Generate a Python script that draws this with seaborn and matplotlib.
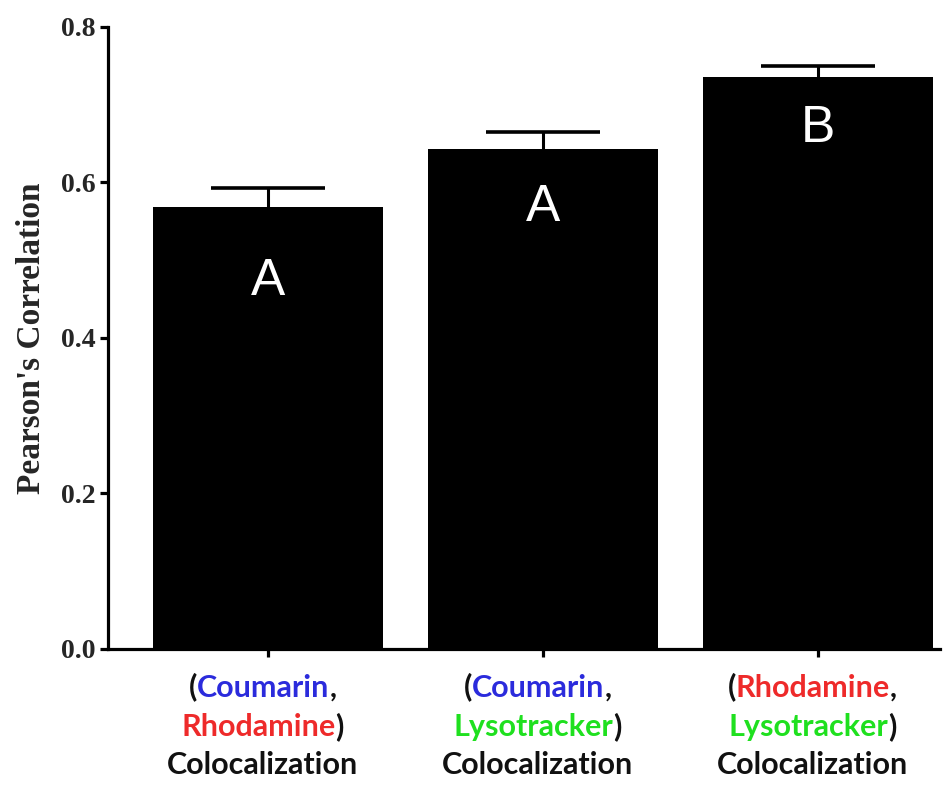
import matplotlib
matplotlib.use('Agg')
import matplotlib.pyplot as plt
import seaborn as sns
import pandas as pd
from matplotlib.offsetbox import TextArea, HPacker, VPacker, AnnotationBbox

# data
pairs = ['Coumarin-Rhodamine', 'Coumarin-Lysotracker', 'Rhodamine-Lysotracker']
pearson = [0.569, 0.643, 0.736]
sem = [0.024, 0.022, 0.014]
groups = ['A', 'A', 'B']
first_dye = ['Coumarin', 'Coumarin', 'Rhodamine']
second_dye = ['Rhodamine', 'Lysotracker', 'Lysotracker']

dye_colors = {'Coumarin': '#2b2bdc', 'Rhodamine': '#ee2a2a', 'Lysotracker': '#1fe01f'}

df = pd.DataFrame({'pair': pairs, 'r': pearson})

sns.set_style('ticks')
plt.rcParams['font.family'] = ['Liberation Serif', 'DejaVu Serif']

fig = plt.figure(figsize=(9.46, 7.87), dpi=100)
ax = fig.add_axes([0.1142, 0.1754, 0.8795, 0.7903])

sns.barplot(data=df, x='pair', y='r', color='black', saturation=1,
            width=0.836, errorbar=None, ax=ax, zorder=2)
for p in ax.patches:
    p.set_linewidth(0)

# error bars sit behind the bars, so only the upper half shows
ax.errorbar(range(len(pairs)), pearson, yerr=sem, fmt='none',
            ecolor='black', elinewidth=2.2, capsize=41, capthick=2.6, zorder=1)

# group letters inside bars
letter_drop = [0.096, 0.075, 0.066]
for i, (g, v) in enumerate(zip(groups, pearson)):
    ax.text(i, v - letter_drop[i], g, color='white', ha='center', va='center',
            fontsize=37, family='Liberation Sans', zorder=3)

ax.set_xlim(-0.582, 2.444)
ax.set_ylim(0, 0.8)
ax.set_yticks([0.0, 0.2, 0.4, 0.6, 0.8])
ax.set_yticklabels(['0.0', '0.2', '0.4', '0.6', '0.8'], fontsize=20, fontweight='bold')
ax.set_ylabel("Pearson's Correlation", fontsize=24, fontweight='bold', labelpad=10)
ax.set_xlabel('')
ax.set_xticks(range(len(pairs)))
ax.set_xticklabels([''] * len(pairs))

sns.despine(ax=ax)
for s in ['left', 'bottom']:
    ax.spines[s].set_linewidth(2.3)
    ax.spines[s].set_color('black')
ax.tick_params(axis='both', length=6, width=2.3, color='black')
ax.tick_params(axis='y', pad=3)

# multi-coloured category labels
lbl = dict(fontsize=22, fontweight='bold', family=['Lato', 'DejaVu Sans'])
for i in range(len(pairs)):
    c1, c2 = first_dye[i], second_dye[i]
    line1 = HPacker(children=[TextArea('(', textprops=dict(color='#111111', **lbl)),
                              TextArea(c1, textprops=dict(color=dye_colors[c1], **lbl)),
                              TextArea(',', textprops=dict(color='#111111', **lbl))],
                    sep=0, pad=0, align='baseline')
    line2 = HPacker(children=[TextArea(c2, textprops=dict(color=dye_colors[c2], **lbl)),
                              TextArea(')', textprops=dict(color='#111111', **lbl))],
                    sep=0, pad=0, align='baseline')
    line3 = TextArea('Colocalization', textprops=dict(color='#111111', **lbl))
    block = VPacker(children=[line1, line2, line3], sep=7.5, pad=0, align='center')
    ab = AnnotationBbox(block, (i, 0), xycoords=('data', 'axes fraction'),
                        xybox=(-4, -17), boxcoords='offset points',
                        box_alignment=(0.5, 1), frameon=False, pad=0)
    ax.add_artist(ab)

fig.savefig('out.png', dpi=100)
